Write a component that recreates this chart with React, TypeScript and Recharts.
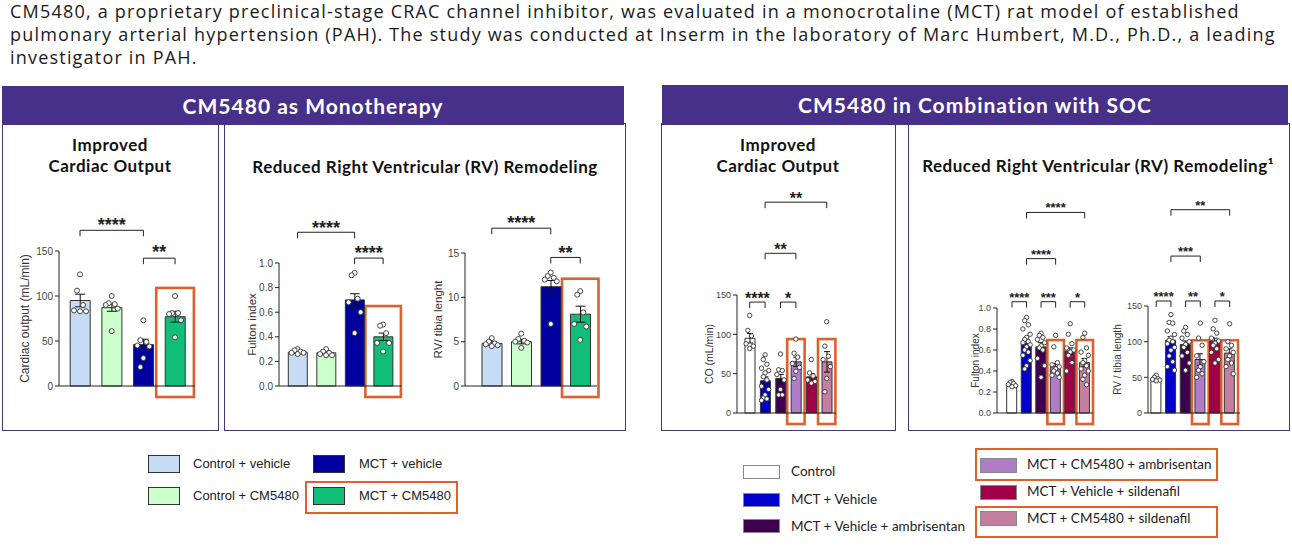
import React from 'react';
import { ComposedChart, Bar, Cell, ErrorBar, Scatter, XAxis, YAxis, ReferenceLine, ReferenceArea } from 'recharts';

// ---- groups & colours ----
const monoGroups = ['Control + vehicle', 'Control + CM5480', 'MCT + vehicle', 'MCT + CM5480'];
const monoColors = ['#C6DCF4', '#CCFFCC', '#0000A0', '#10BE78'];

const socGroups = [
  'Control',
  'MCT + Vehicle',
  'MCT + Vehicle + ambrisentan',
  'MCT + CM5480 + ambrisentan',
  'MCT + Vehicle + sildenafil',
  'MCT + CM5480 + sildenafil',
];
const socColors = ['#FFFFFF', '#0000CC', '#3F0050', '#B07CC8', '#A00048', '#C47FA0'];

// ---- monotherapy: cardiac output ----
const monoCoMean = [95, 87, 46, 77];
const monoCoErr = [7, 4, 6, 6];
const monoCoDots = [
  [124, 106, 90, 84, 83, 83],
  [100, 92, 91, 90, 86, 61],
  [73, 51, 49, 45, 44, 31, 21],
  [100, 81, 81, 80, 73, 54],
];

// ---- monotherapy: fulton index ----
const monoFultonMean = [0.275, 0.27, 0.7, 0.4];
const monoFultonErr = [0.01, 0.01, 0.05, 0.03];
const monoFultonDots = [
  [0.3, 0.29, 0.28, 0.27, 0.27, 0.26],
  [0.3, 0.28, 0.27, 0.26, 0.25, 0.25],
  [0.92, 0.9, 0.71, 0.68, 0.6, 0.43],
  [0.5, 0.49, 0.43, 0.35, 0.35, 0.28],
];

// ---- monotherapy: RV / tibia ----
const monoRvMean = [4.8, 5.0, 11.2, 8.1];
const monoRvErr = [0.2, 0.25, 0.7, 0.9];
const monoRvDots = [
  [5.4, 5.0, 4.8, 4.7, 4.6, 4.5],
  [5.9, 5.3, 5.1, 5.0, 4.9, 4.3],
  [12.8, 12.4, 12.2, 12.0, 11.8, 7.0],
  [10.7, 10.3, 8.3, 7.0, 6.7, 5.2],
];

// ---- combination: cardiac output ----
const socCoMean = [95, 41, 44, 65, 46, 65];
const socCoErr = [6, 5, 5, 6, 4, 13];
const socCoDots = [
  [124, 105, 98, 88, 85, 82],
  [74, 68, 62, 57, 54, 51, 46, 42, 34, 30, 23, 19, 18, 16],
  [75, 55, 54, 49, 42, 30, 23, 23],
  [94, 76, 71, 63, 58, 53, 44],
  [68, 51, 47, 42, 40, 38],
  [116, 85, 72, 68, 59, 44, 27],
];

// ---- combination: fulton index ----
const socFultonMean = [0.27, 0.66, 0.63, 0.44, 0.59, 0.48];
const socFultonErr = [0.01, 0.03, 0.04, 0.03, 0.03, 0.04];
const socFultonDots = [
  [0.3, 0.29, 0.28, 0.27, 0.26, 0.25],
  [0.91, 0.88, 0.84, 0.8, 0.75, 0.72, 0.7, 0.68, 0.67, 0.65, 0.63, 0.6, 0.58, 0.55, 0.5, 0.45, 0.42],
  [0.76, 0.74, 0.72, 0.7, 0.67, 0.64, 0.62, 0.6, 0.52, 0.45, 0.34],
  [0.74, 0.63, 0.48, 0.46, 0.44, 0.42, 0.4, 0.38, 0.36, 0.34],
  [0.85, 0.75, 0.66, 0.62, 0.6, 0.58, 0.55, 0.48, 0.4],
  [0.76, 0.72, 0.62, 0.58, 0.55, 0.5, 0.48, 0.45, 0.42, 0.4, 0.36, 0.32, 0.27],
];

// ---- combination: RV / tibia ----
const socRvMean = [48, 102, 96, 75, 101, 84];
const socRvErr = [2, 5, 5, 8, 4, 6];
const socRvDots = [
  [53, 50, 48, 47, 46, 45],
  [138, 127, 126, 115, 110, 105, 102, 100, 97, 92, 88, 80, 72, 65, 60],
  [120, 115, 110, 105, 100, 96, 92, 85, 80, 70, 60],
  [126, 105, 95, 80, 72, 65, 60, 55, 50],
  [130, 118, 112, 105, 101, 98, 95, 90, 85, 75, 70],
  [125, 100, 95, 90, 85, 80, 75, 70, 65, 55],
];

// ---- significance comparisons (group a vs group b, bracket level, stars) ----
type Sig = { a: number; b: number; y: number; label: string };
const monoCoSigs: Sig[] = [
  { a: 0, b: 2, y: 173, label: '****' },
  { a: 2, b: 3, y: 142, label: '**' },
];
const monoFultonSigs: Sig[] = [
  { a: 0, b: 2, y: 1.25, label: '****' },
  { a: 2, b: 3, y: 1.04, label: '****' },
];
const monoRvSigs: Sig[] = [
  { a: 0, b: 2, y: 17.8, label: '****' },
  { a: 2, b: 3, y: 14.5, label: '**' },
];
const socCoSigs: Sig[] = [
  { a: 0, b: 1, y: 141, label: '****' },
  { a: 2, b: 3, y: 141, label: '*' },
  { a: 1, b: 3, y: 203, label: '**' },
  { a: 1, b: 5, y: 268, label: '**' },
];
const socFultonSigs: Sig[] = [
  { a: 0, b: 1, y: 1.06, label: '****' },
  { a: 2, b: 3, y: 1.06, label: '***' },
  { a: 4, b: 5, y: 1.06, label: '*' },
  { a: 1, b: 3, y: 1.47, label: '****' },
  { a: 1, b: 5, y: 1.91, label: '****' },
];
const socRvSigs: Sig[] = [
  { a: 0, b: 1, y: 157, label: '****' },
  { a: 2, b: 3, y: 157, label: '**' },
  { a: 4, b: 5, y: 157, label: '*' },
  { a: 1, b: 3, y: 220, label: '***' },
  { a: 1, b: 5, y: 285, label: '**' },
];

const ORANGE = '#E0602C';
const PURPLE = '#47308A';
const BORDER = '#463676';
const ARIAL = '"Liberation Sans", Arial, sans-serif';
const HEAD = 'Lato, "Open Sans", sans-serif';

interface Plot { x: number; y: number; w: number; h: number }
interface MiniProps {
  groups: string[];
  colors: string[];
  means: number[];
  errs: number[];
  dots: number[][];
  domain: [number, number];
  ticks: number[];
  decimals: number;
  yLabel: string;
  sigs: Sig[];
  marked: number[];
  markTop: number;
  plot: Plot;
  padL: number;
  padR: number;
  barSize: number;
  jitter: number;
  markPad: number;
  labelDx: number;
  labelSize: number;
  tickSize: number;
  dotR: number;
  starSize: number;
  starGap: number;
}

const PANEL_TOP = 125;
const AXIS_W = 50;
const XAXIS_H = 14;
const jitterPattern = [0, -1, 1, -2, 2];

function MiniChart(p: MiniProps) {
  const rows = p.groups.map((g, i) => ({ g, mean: p.means[i], err: p.errs[i] }));
  const pts = p.groups.flatMap((g, gi) => p.dots[gi].map((v, i) => ({ g, v, i })));
  const left = p.plot.x - AXIS_W;
  const width = AXIS_W + p.plot.w + 4;
  const height = p.plot.y + p.plot.h - PANEL_TOP + XAXIS_H;

  const dotShape = (s: any) => {
    const off = jitterPattern[s.payload.i % jitterPattern.length] * p.jitter;
    return <circle cx={s.cx + off} cy={s.cy} r={p.dotR} fill="#fff" stroke="#333" strokeWidth={0.9} />;
  };
  // star glyph centre sits ~0.57em above the baseline
  const bracketShape = (label: string) => (s: any) => (
    <g>
      <path d={`M${s.x1},${s.y1 + 6}V${s.y1}H${s.x2}V${s.y2 + 6}`} fill="none" stroke="#222" strokeWidth={1} />
      <text
        x={(s.x1 + s.x2) / 2}
        y={s.y1 - p.starGap + 0.57 * p.starSize}
        textAnchor="middle"
        fontSize={p.starSize}
        fontWeight="bold"
        fill="#222"
        fontFamily={ARIAL}
      >
        {label}
      </text>
    </g>
  );
  const markShape = (s: any) => (
    <rect x={s.x - p.markPad} y={s.y} width={s.width + 2 * p.markPad} height={s.height + 11} fill="none" stroke={ORANGE} strokeWidth={2.6} />
  );

  return (
    <div style={{ position: 'absolute', left, top: PANEL_TOP }}>
      <ComposedChart
        width={width}
        height={height}
        data={rows}
        margin={{ top: p.plot.y - PANEL_TOP, right: 4, bottom: 0, left: 0 }}
      >
        <XAxis
          dataKey="g"
          type="category"
          allowDuplicatedCategory={false}
          tick={false}
          tickSize={4}
          height={XAXIS_H}
          padding={{ left: p.padL, right: p.padR }}
          axisLine={{ stroke: '#222' }}
          tickLine={{ stroke: '#222' }}
        />
        <YAxis
          type="number"
          domain={p.domain}
          ticks={p.ticks}
          width={AXIS_W}
          tickSize={4}
          axisLine={{ stroke: '#222' }}
          tickLine={{ stroke: '#222' }}
          tick={{ fontSize: p.tickSize, fill: '#444', fontFamily: ARIAL }}
          tickFormatter={(v: number) => v.toFixed(p.decimals)}
          label={{
            value: p.yLabel,
            angle: -90,
            position: 'insideLeft',
            offset: AXIS_W - p.labelDx,
            style: { textAnchor: 'middle', fontSize: p.labelSize, fill: '#333', fontFamily: ARIAL },
          }}
        />
        <Bar dataKey="mean" barSize={p.barSize} stroke="#333" strokeWidth={1} isAnimationActive={false}>
          {rows.map((r, i) => (
            <Cell key={r.g} fill={p.colors[i]} />
          ))}
          <ErrorBar dataKey="err" width={Math.max(3, p.barSize / 4)} stroke="#111" strokeWidth={1} direction="y" />
        </Bar>
        <Scatter data={pts} dataKey="v" shape={dotShape} isAnimationActive={false} />
        {p.sigs.map((s, k) => (
          <ReferenceLine
            key={'s' + k}
            segment={[
              { x: p.groups[s.a], y: s.y },
              { x: p.groups[s.b], y: s.y },
            ]}
            ifOverflow="visible"
            shape={bracketShape(s.label)}
          />
        ))}
        {p.marked.map((m) => (
          <ReferenceArea
            key={'m' + m}
            x1={p.groups[m]}
            x2={p.groups[m]}
            y1={0}
            y2={p.markTop}
            ifOverflow="visible"
            shape={markShape}
          />
        ))}
      </ComposedChart>
    </div>
  );
}

const abs = (l: number, t: number, w: number, h: number): React.CSSProperties => ({
  position: 'absolute',
  left: l,
  top: t,
  width: w,
  height: h,
  boxSizing: 'border-box',
});

function Panel({ l, w }: { l: number; w: number }) {
  return <div style={{ ...abs(l, 123, w, 308), border: `1.5px solid ${BORDER}` }} />;
}

function Title({ cx, top, lines }: { cx: number; top: number; lines: string[] }) {
  return (
    <div
      style={{
        position: 'absolute',
        left: cx - 200,
        top,
        width: 400,
        textAlign: 'center',
        fontFamily: HEAD,
        fontWeight: 700,
        fontSize: 17,
        letterSpacing: 0.5,
        lineHeight: '21px',
        color: '#111',
      }}
    >
      {lines.map((t) => (
        <div key={t}>{t}</div>
      ))}
    </div>
  );
}

function Swatch({ l, t, w, h, color, border }: { l: number; t: number; w: number; h: number; color: string; border: string }) {
  return <div style={{ ...abs(l, t, w, h), background: color, border: `1.5px solid ${border}` }} />;
}

function LegendText({ l, cy, text, size, font }: { l: number; cy: number; text: string; size: number; font: string }) {
  return (
    <div style={{ position: 'absolute', left: l, top: cy - 10, height: 20, lineHeight: '20px', fontSize: size, fontFamily: font, color: '#222', whiteSpace: 'nowrap' }}>
      {text}
    </div>
  );
}

const headerStyle: React.CSSProperties = {
  background: PURPLE,
  color: '#fff',
  fontFamily: HEAD,
  fontWeight: 700,
  fontSize: 21,
  letterSpacing: 1,
  textAlign: 'center',
};

export default function App() {
  return (
    <div style={{ position: 'absolute', left: 0, top: 0, width: 1292, height: 548, background: '#fff', overflow: 'hidden' }}>
      <div
        style={{
          position: 'absolute',
          left: 10,
          top: 0,
          width: 1280,
          fontFamily: '"Open Sans", sans-serif',
          fontSize: 18,
          letterSpacing: 1.2,
          lineHeight: '23px',
          color: '#1a1a1a',
          whiteSpace: 'nowrap',
        }}
      >
        CM5480, a proprietary preclinical-stage CRAC channel inhibitor, was evaluated in a monocrotaline (MCT) rat model of established
        <br />
        pulmonary arterial hypertension (PAH). The study was conducted at Inserm in the laboratory of Marc Humbert, M.D., Ph.D., a leading
        <br />
        investigator in PAH.
      </div>

      {/* section headers */}
      <div style={{ ...abs(2, 86, 622, 39), ...headerStyle, lineHeight: '39px' }}>CM5480 as Monotherapy</div>
      <div style={{ ...abs(662, 85, 626, 40), ...headerStyle, lineHeight: '40px' }}>CM5480 in Combination with SOC</div>

      <Panel l={2} w={217} />
      <Panel l={224} w={402} />
      <Panel l={661} w={235} />
      <Panel l={908} w={382} />

      <Title cx={110} top={134} lines={['Improved', 'Cardiac Output']} />
      <Title cx={425} top={156} lines={['Reduced Right Ventricular (RV) Remodeling']} />
      <Title cx={778} top={134} lines={['Improved', 'Cardiac Output']} />
      <Title cx={1098} top={155} lines={['Reduced Right Ventricular (RV) Remodeling\u00B9']} />

      <MiniChart
        groups={monoGroups} colors={monoColors} means={monoCoMean} errs={monoCoErr} dots={monoCoDots}
        domain={[0, 150]} ticks={[0, 50, 100, 150]} decimals={0} yLabel="Cardiac output (mL/min)"
        sigs={monoCoSigs} marked={[3]} markTop={109}
        plot={{ x: 59, y: 251, w: 136, h: 135 }} padL={5.2} padR={4.1} barSize={20} jitter={3} markPad={3}
        labelDx={34} labelSize={12} tickSize={10} dotR={2.5} starSize={18} starGap={10}
      />
      <MiniChart
        groups={monoGroups} colors={monoColors} means={monoFultonMean} errs={monoFultonErr} dots={monoFultonDots}
        domain={[0, 1]} ticks={[0, 0.2, 0.4, 0.6, 0.8, 1.0]} decimals={1} yLabel="Fulton index"
        sigs={monoFultonSigs} marked={[3]} markTop={0.65}
        plot={{ x: 279, y: 263, w: 122.5, h: 123 }} padL={4.3} padR={4.1} barSize={19} jitter={3} markPad={3.5}
        labelDx={27} labelSize={11.5} tickSize={10} dotR={2.5} starSize={18} starGap={9}
      />
      <MiniChart
        groups={monoGroups} colors={monoColors} means={monoRvMean} errs={monoRvErr} dots={monoRvDots}
        domain={[0, 15]} ticks={[0, 5, 10, 15]} decimals={0} yLabel="RV/ tibia lenght"
        sigs={monoRvSigs} marked={[3]} markTop={12.1}
        plot={{ x: 465, y: 253, w: 132, h: 133 }} padL={12} padR={2} barSize={20} jitter={3} markPad={3.5}
        labelDx={27} labelSize={11.5} tickSize={10} dotR={2.5} starSize={18} starGap={9}
      />
      <MiniChart
        groups={socGroups} colors={socColors} means={socCoMean} errs={socCoErr} dots={socCoDots}
        domain={[0, 150]} ticks={[0, 50, 100, 150]} decimals={0} yLabel="CO (mL/min)"
        sigs={socCoSigs} marked={[3, 5]} markTop={94}
        plot={{ x: 737, y: 295, w: 99, h: 118 }} padL={5} padR={1.6} barSize={10} jitter={1.8} markPad={1}
        labelDx={28} labelSize={10.5} tickSize={9} dotR={2.2} starSize={16} starGap={7.5}
      />
      <MiniChart
        groups={socGroups} colors={socColors} means={socFultonMean} errs={socFultonErr} dots={socFultonDots}
        domain={[0, 1]} ticks={[0, 0.2, 0.4, 0.6, 0.8, 1.0]} decimals={1} yLabel="Fulton index"
        sigs={socFultonSigs} marked={[3, 5]} markTop={0.695}
        plot={{ x: 997, y: 308, w: 96, h: 105 }} padL={7.7} padR={1} barSize={10} jitter={1.8} markPad={1}
        labelDx={22} labelSize={10} tickSize={9} dotR={2.2} starSize={13} starGap={7.5}
      />
      <MiniChart
        groups={socGroups} colors={socColors} means={socRvMean} errs={socRvErr} dots={socRvDots}
        domain={[0, 150]} ticks={[0, 50, 100, 150]} decimals={0} yLabel="RV / tibia length"
        sigs={socRvSigs} marked={[3, 5]} markTop={102}
        plot={{ x: 1148, y: 306, w: 92, h: 107 }} padL={0.9} padR={3} barSize={10} jitter={1.8} markPad={1}
        labelDx={31} labelSize={10} tickSize={9} dotR={2.2} starSize={13} starGap={7.5}
      />

      {/* monotherapy legend */}
      <Swatch l={148} t={455} w={32} h={18} color={monoColors[0]} border="#333" />
      <LegendText l={193} cy={464} text={monoGroups[0]} size={13} font={ARIAL} />
      <Swatch l={313} t={455} w={32} h={18} color={monoColors[2]} border="#333" />
      <LegendText l={359} cy={464} text={monoGroups[2]} size={13} font={ARIAL} />
      <Swatch l={148} t={487} w={32} h={18} color={monoColors[1]} border="#333" />
      <LegendText l={193} cy={496} text={monoGroups[1]} size={13} font={ARIAL} />
      <Swatch l={313} t={487} w={32} h={18} color={monoColors[3]} border="#333" />
      <LegendText l={359} cy={496} text={monoGroups[3]} size={13} font={ARIAL} />
      <div style={{ ...abs(305, 481, 153, 33), border: `2.5px solid ${ORANGE}` }} />

      {/* combination legend */}
      <Swatch l={743} t={465} w={37} h={14} color={socColors[0]} border="#888" />
      <LegendText l={791} cy={471} text={socGroups[0]} size={13.5} font={HEAD} />
      <Swatch l={743} t={493} w={37} h={14} color={socColors[1]} border="#888" />
      <LegendText l={791} cy={499} text={socGroups[1]} size={13.5} font={HEAD} />
      <Swatch l={743} t={519} w={37} h={14} color={socColors[2]} border="#888" />
      <LegendText l={791} cy={526} text={socGroups[2]} size={13.5} font={HEAD} />
      <Swatch l={980} t={458} w={37} h={15} color={socColors[3]} border="#888" />
      <LegendText l={1027} cy={464} text={socGroups[3]} size={13.5} font={HEAD} />
      <Swatch l={980} t={485} w={37} h={15} color={socColors[4]} border="#888" />
      <LegendText l={1027} cy={491} text={socGroups[4]} size={13.5} font={HEAD} />
      <Swatch l={980} t={511} w={37} h={15} color={socColors[5]} border="#888" />
      <LegendText l={1027} cy={518} text={socGroups[5]} size={13.5} font={HEAD} />
      <div style={{ ...abs(975, 448, 243, 33), border: `2.5px solid ${ORANGE}` }} />
      <div style={{ ...abs(975, 506, 243, 32), border: `2.5px solid ${ORANGE}` }} />
    </div>
  );
}
